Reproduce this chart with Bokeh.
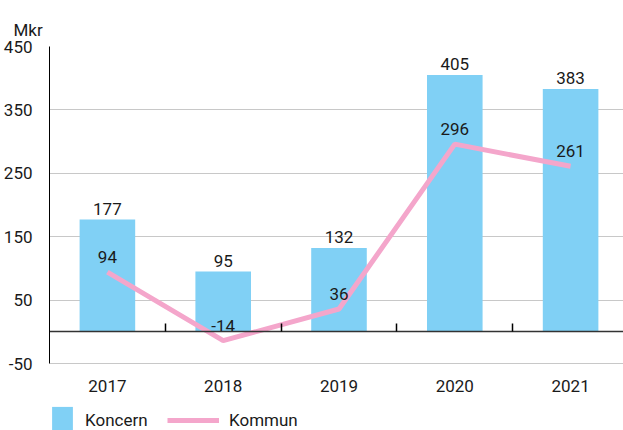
from bokeh.plotting import figure
from bokeh.models import (ColumnDataSource, LinearAxis, FixedTicker, Range1d, Title,
                          Legend, LegendItem, Grid)
from bokeh.embed import file_html
from bokeh.resources import INLINE

years = ["2017", "2018", "2019", "2020", "2021"]
koncern = [177, 95, 132, 405, 383]
kommun = [94, -14, 36, 296, 261]
y_ticks = [-50, 50, 150, 250, 350, 450]
unit = "Mkr"

FONT = "Roboto"
FS = "17px"
TXT = "#1a1a1a"
BAR = "#80D0F5"
PINK = "#F4A6CB"

# layout (pixels)
W, H = 623, 430
LEFT, TOP = 48, 46
AXIS_PX = 317                      # pixels between -50 and 450
Y_MIN, Y_MAX = y_ticks[0], y_ticks[-1]
frame_h = H - TOP
y_start = Y_MAX - frame_h * (Y_MAX - Y_MIN) / AXIS_PX
band_px = 116
x_end = (W - LEFT) / band_px

xs = [i + 0.5 for i in range(len(years))]
src = ColumnDataSource(dict(x=xs, koncern=koncern, kommun=kommun,
                            kl=[str(v) for v in koncern], ml=[str(v) for v in kommun]))

p = figure(width=W, height=H, output_backend="svg", toolbar_location=None,
           x_range=Range1d(0, x_end), y_range=Range1d(y_start, Y_MAX),
           min_border_left=LEFT, min_border_right=0, min_border_top=TOP, min_border_bottom=0,
           x_axis_type=None, y_axis_type=None)
p.outline_line_color = None
p.background_fill_color = "white"
p.border_fill_color = "white"

t = Title(text=unit, align="left", offset=-36, standoff=10, vertical_align="top",
          text_font=FONT, text_font_size=FS, text_font_style="normal", text_color=TXT)
p.add_layout(t, "above")

ya = LinearAxis(ticker=FixedTicker(ticks=y_ticks), bounds=(Y_MIN, Y_MAX),
                major_label_overrides={v: str(v) for v in y_ticks})
ya.axis_line_color = "black"
ya.major_tick_line_color = None
ya.minor_tick_line_color = None
ya.major_label_standoff = 11
ya.major_label_text_font = FONT
ya.major_label_text_font_size = FS
ya.major_label_text_color = TXT
p.add_layout(ya, "left")
p.add_layout(Grid(dimension=1, ticker=FixedTicker(ticks=y_ticks),
                  grid_line_color="#c8c8c8", grid_line_width=1))

# category labels, hung below the -50 line
xa = LinearAxis(ticker=FixedTicker(ticks=xs), fixed_location=Y_MIN,
                major_label_overrides={x: y for x, y in zip(xs, years)})
xa.axis_line_color = None
xa.major_tick_line_color = None
xa.minor_tick_line_color = None
xa.major_label_standoff = 10
xa.major_label_text_font = FONT
xa.major_label_text_font_size = FS
xa.major_label_text_color = TXT
p.add_layout(xa, "below")

# zero line with upward ticks at category boundaries
za = LinearAxis(ticker=FixedTicker(ticks=list(range(1, len(years)))), fixed_location=0)
za.axis_line_color = "#333333"
za.axis_line_width = 1.5
za.major_tick_in = 8
za.major_tick_out = 0
za.major_tick_line_color = "black"
za.major_tick_line_width = 1.5
za.minor_tick_line_color = None
za.major_label_text_font_size = "0px"
za.major_label_text_color = None
p.add_layout(za, "below")

bars = p.vbar(x="x", top="koncern", bottom=0, width=0.48, source=src,
              fill_color=BAR, line_color=None)
line = p.line(x="x", y="kommun", source=src, line_color=PINK, line_width=5)

p.text(x="x", y="koncern", text="kl", source=src, text_align="center",
       text_baseline="middle", y_offset=-11, text_font_size=FS,
       text_font={"value": FONT}, text_color=TXT)
p.text(x="x", y="kommun", text="ml", source=src, text_align="center",
       text_baseline="middle", y_offset=-15, text_font_size=FS,
       text_font={"value": FONT}, text_color=TXT)

def mk_legend(item, gw, x):
    return Legend(items=[item], location=(x, -7), orientation="horizontal",
                  glyph_width=gw, glyph_height=34, label_standoff=10, padding=0,
                  margin=0, spacing=0, border_line_color=None, background_fill_alpha=0,
                  label_text_font=FONT, label_text_font_size=FS,
                  label_text_color=TXT, label_height=34)

p.add_layout(mk_legend(LegendItem(label="Koncern", renderers=[bars]), 26, 0), "center")
p.add_layout(mk_legend(LegendItem(label="Kommun", renderers=[line]), 52, 118), "center")

open("out.html", "w").write(file_html(p, INLINE))
